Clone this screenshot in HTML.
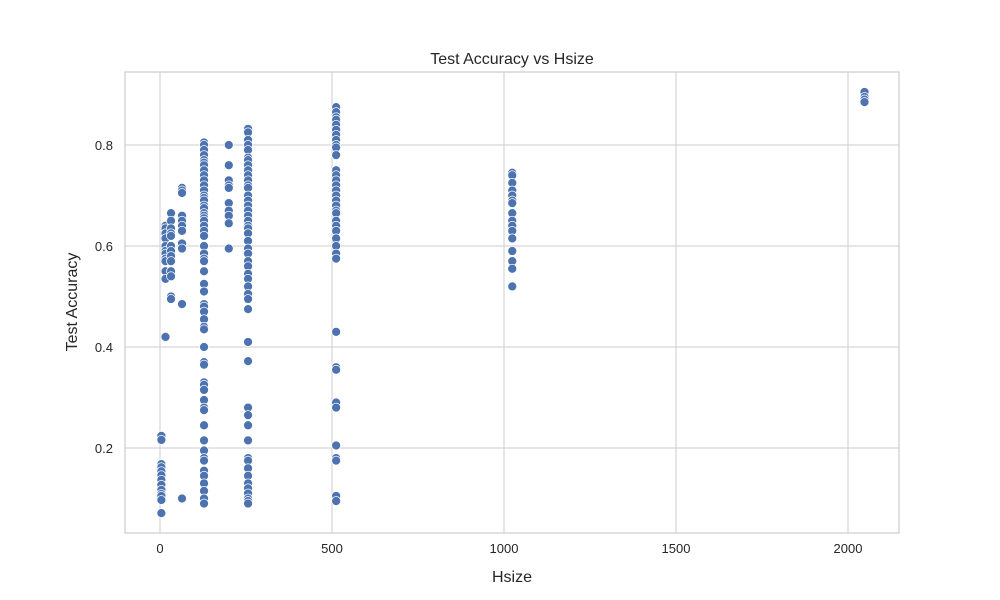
<!DOCTYPE html>
<html><head><meta charset="utf-8"><style>body{margin:0;background:#fff}svg{display:block;font-family:"Liberation Sans","DejaVu Sans",sans-serif}</style></head>
<body>
<svg id="chart" width="1000" height="600"></svg>
<script>
const xTicks=[0,500,1000,1500,2000];
const yTicks=[0.2,0.4,0.6,0.8];
const yTickLabels=["0.2","0.4","0.6","0.8"];
const hsizes=[4,16,32,64,128,200,256,512,1024,2048];
const acc4=[0.224,0.216,0.168,0.162,0.154,0.146,0.137,0.127,0.117,0.109,0.105,0.097,0.071];
const acc16=[0.64,0.635,0.625,0.615,0.60,0.59,0.585,0.575,0.57,0.55,0.535,0.42];
const acc32=[0.665,0.65,0.635,0.625,0.62,0.60,0.59,0.58,0.57,0.55,0.54,0.50,0.495];
const acc64=[0.715,0.71,0.705,0.66,0.65,0.64,0.63,0.605,0.595,0.485,0.10];
const acc128=[0.805,0.80,0.79,0.78,0.77,0.765,0.76,0.75,0.74,0.73,0.72,0.71,0.70,0.695,0.69,0.68,0.675,0.665,0.66,0.655,0.65,0.64,0.63,0.62,0.60,0.585,0.575,0.57,0.55,0.525,0.51,0.485,0.48,0.47,0.455,0.44,0.435,0.40,0.37,0.365,0.33,0.325,0.315,0.295,0.28,0.275,0.245,0.215,0.195,0.18,0.175,0.155,0.145,0.13,0.115,0.10,0.09];
const acc200=[0.80,0.76,0.73,0.72,0.715,0.685,0.67,0.66,0.645,0.595];
const acc256=[0.832,0.825,0.81,0.80,0.79,0.775,0.77,0.76,0.75,0.74,0.73,0.72,0.715,0.70,0.69,0.68,0.67,0.66,0.65,0.64,0.635,0.625,0.61,0.595,0.585,0.57,0.56,0.545,0.535,0.52,0.505,0.495,0.475,0.41,0.372,0.28,0.265,0.245,0.215,0.18,0.175,0.16,0.145,0.13,0.12,0.11,0.10,0.095,0.09];
const acc512=[0.875,0.865,0.855,0.85,0.84,0.83,0.82,0.81,0.80,0.795,0.78,0.75,0.74,0.73,0.72,0.71,0.70,0.69,0.68,0.67,0.665,0.65,0.64,0.63,0.615,0.60,0.585,0.575,0.43,0.36,0.355,0.29,0.28,0.205,0.18,0.175,0.105,0.095];
const acc1024=[0.745,0.74,0.725,0.71,0.70,0.69,0.685,0.665,0.65,0.64,0.63,0.615,0.59,0.57,0.555,0.52];
const acc2048=[0.905,0.895,0.89,0.885];
const series=[acc4,acc16,acc32,acc64,acc128,acc200,acc256,acc512,acc1024,acc2048];
const L=125,R=899,T=72,B=533;
const X=v=>160+v*0.344;
const Y=v=>549-v*505;
const svg=document.getElementById('chart');
const NS='http://www.w3.org/2000/svg';
function mk(tag,attrs,parent){const e=document.createElementNS(NS,tag);for(const k in attrs)e.setAttribute(k,attrs[k]);(parent||svg).appendChild(e);return e;}
const grid=mk('g',{});


xTicks.forEach(t=>{const l=mk('line',{x1:X(t),x2:X(t),y1:T,y2:B,stroke:'#cccccc','stroke-width':1},grid);


const tx=mk('text',{x:X(t),y:B+20,'text-anchor':'middle','font-size':13,fill:'#262626'});tx.textContent=t;

});
yTicks.forEach((t,i)=>{const l=mk('line',{x1:L,x2:R,y1:Y(t),y2:Y(t),stroke:'#cccccc','stroke-width':1},grid);


const tx=mk('text',{x:L-12,y:Y(t)+5,'text-anchor':'end','font-size':13,fill:'#262626'});tx.textContent=yTickLabels[i];

});
const frame=mk('rect',{x:L,y:T,width:R-L,height:B-T,fill:'none',stroke:'#cccccc','stroke-width':1.2});


const pts=mk('g',{});


series.forEach((arr,i)=>arr.forEach(v=>{const c=mk('circle',{cx:X(hsizes[i]),cy:Y(v),r:4.5,fill:'#4c72b0',stroke:'#ffffff','stroke-width':0.75},pts);

}));
const title=mk('text',{x:512,y:64,'text-anchor':'middle','font-size':16,fill:'#262626'});title.textContent='Test Accuracy vs Hsize';


const xt=mk('text',{x:512,y:582,'text-anchor':'middle','font-size':16,fill:'#262626'});xt.textContent='Hsize';


const yt=mk('text',{x:0,y:0,'text-anchor':'middle','font-size':16,fill:'#262626',transform:'translate(77,302) rotate(-90)'});yt.textContent='Test Accuracy';


</script>
</body></html>
